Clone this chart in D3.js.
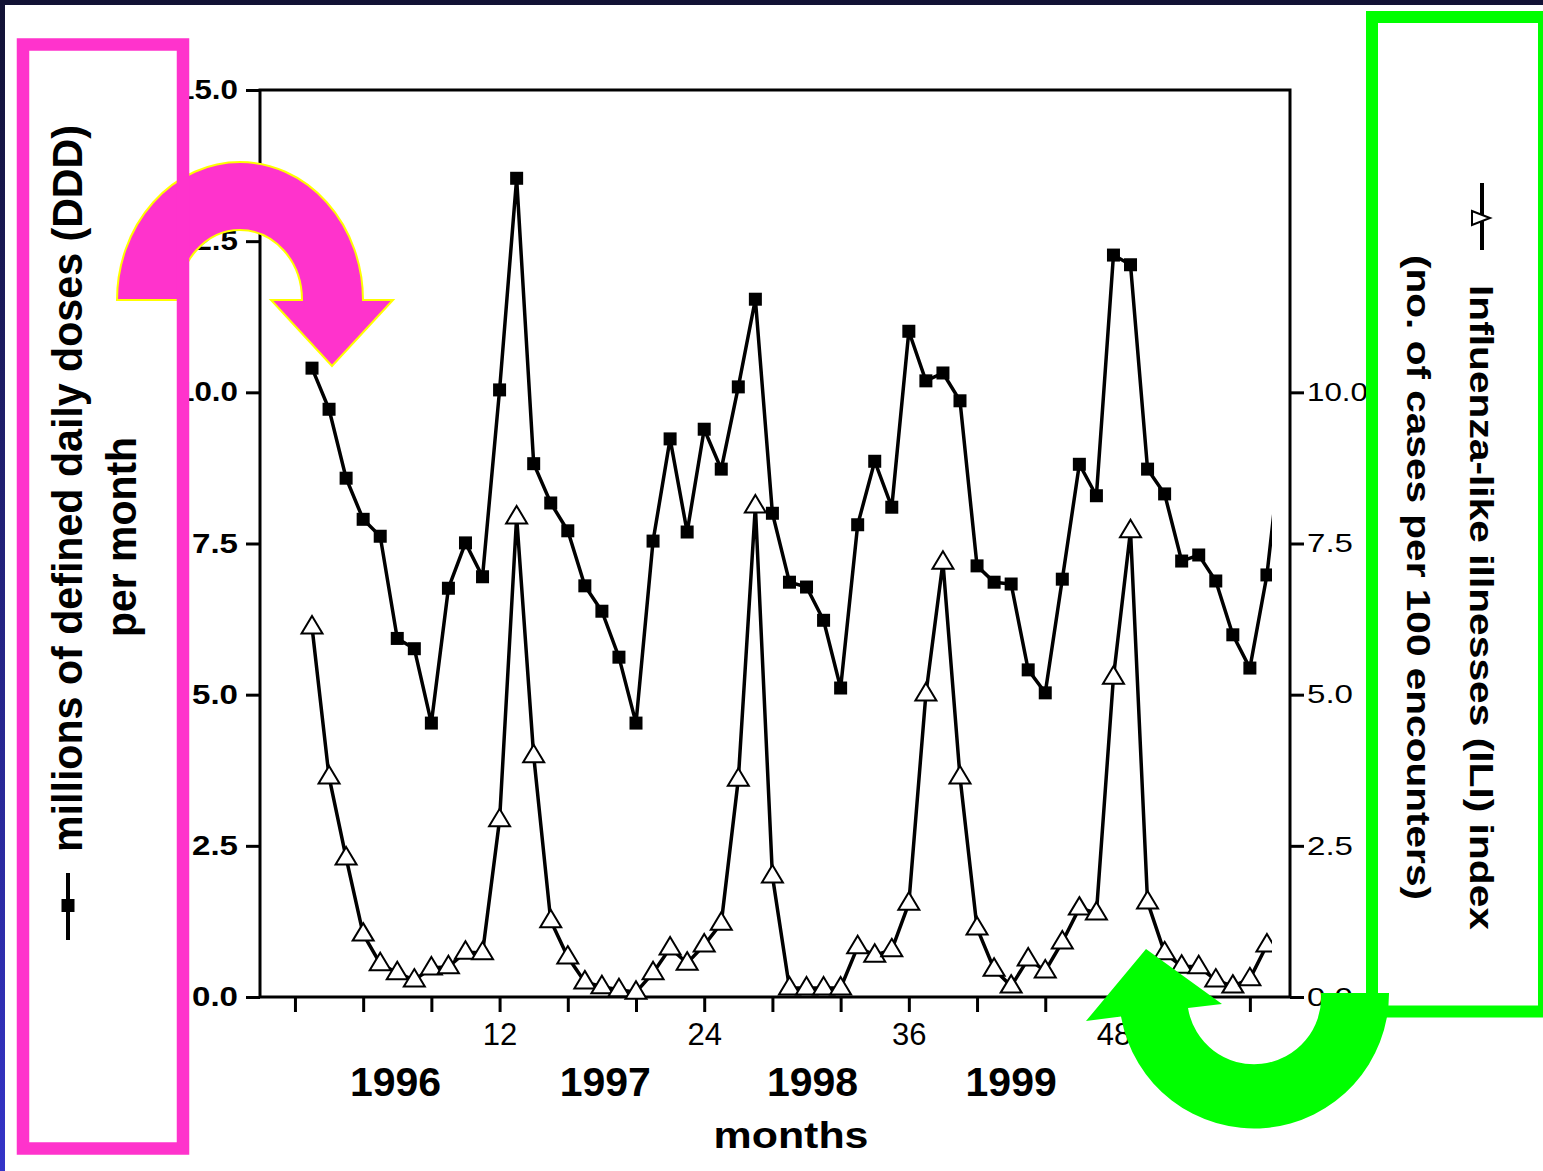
<!DOCTYPE html>
<html>
<head>
<meta charset="utf-8">
<script src="https://cdn.jsdelivr.net/npm/d3@7"></script>
<style>
  body { margin: 0; background: #fff; }
  svg { display: block; font-family: "Liberation Sans", Arial, sans-serif; }
</style>
</head>
<body>
<svg width="1543" height="1171"></svg>
<script>
// months since start of 1996
var months = [1, 2, 3, 4, 5, 6, 7, 8, 9, 10, 11, 12, 13, 14, 15, 16, 17, 18, 19, 20,
  21, 22, 23, 24, 25, 26, 27, 28, 29, 30, 31, 32, 33, 34, 35, 36, 37, 38, 39, 40,
  41, 42, 43, 44, 45, 46, 47, 48, 49, 50, 51, 52, 53, 54, 55, 56, 57, 58];

// millions of DDD per month (filled squares, left axis)
var ddd = [10.40, 9.72, 8.58, 7.90, 7.62, 5.93, 5.76, 4.53, 6.76, 7.51,
  6.95, 10.04, 13.54, 8.82, 8.17, 7.71, 6.80, 6.38, 5.62, 4.53,
  7.54, 9.23, 7.69, 9.39, 8.73, 10.09, 11.54, 8.00, 6.86, 6.78,
  6.23, 5.11, 7.81, 8.86, 8.10, 11.01, 10.19, 10.32, 9.86, 7.13,
  6.86, 6.83, 5.41, 5.03, 6.91, 8.81, 8.29, 12.27, 12.11, 8.73,
  8.32, 7.21, 7.31, 6.88, 5.99, 5.44, 6.98, 9.50];

// ILI index (open triangles, right axis)
var ili = [6.12, 3.64, 2.30, 1.04, 0.55, 0.40, 0.28, 0.48, 0.50, 0.74,
  0.73, 2.93, 7.94, 3.99, 1.26, 0.66, 0.25, 0.17, 0.12, 0.08,
  0.40, 0.81, 0.56, 0.86, 1.22, 3.60, 8.12, 2.00, 0.15, 0.15,
  0.15, 0.15, 0.83, 0.69, 0.78, 1.55, 5.01, 7.19, 3.64, 1.14,
  0.46, 0.18, 0.63, 0.43, 0.91, 1.47, 1.39, 5.29, 7.71, 1.57,
  0.73, 0.51, 0.50, 0.28, 0.18, 0.30, 0.86, null];

var leftTicks = [0, 2.5, 5, 7.5, 10, 12.5, 15];
var rightTicks = [0, 2.5, 5, 7.5, 10];
var monthTicks = [0, 4, 8, 12, 16, 20, 24, 28, 32, 36, 40, 44, 48, 52, 56];
var monthLabels = [12, 24, 36, 48];
var years = ["1996", "1997", "1998", "1999"];
var yearMonths = [5.9, 18.2, 30.35, 42];

var svg = d3.select("svg");

// dark slide frame
var defs = svg.append("defs");
var grad = defs.append("linearGradient").attr("id", "frame")
    .attr("x1", 0).attr("y1", 0).attr("x2", 0).attr("y2", 1);
grad.append("stop").attr("offset", "0%").attr("stop-color", "#121234");
grad.append("stop").attr("offset", "100%").attr("stop-color", "#3434c8");
svg.append("rect").attr("width", 1543).attr("height", 1171).attr("fill", "url(#frame)");
svg.append("rect").attr("x", 5).attr("y", 5).attr("width", 1538).attr("height", 1166).attr("fill", "#fff");

var x = d3.scaleLinear().domain([-2.05, 58.47]).range([260, 1292]);
var y = d3.scaleLinear().domain([0, 15]).range([997, 90]);

defs.append("clipPath").attr("id", "plotclip")
  .append("rect").attr("x", 255).attr("y", 80).attr("width", 1017).attr("height", 930);

// axes
var fmt = d3.format(".1f");

var gl = svg.append("g").attr("transform", "translate(260,0)")
    .call(d3.axisLeft(y).tickValues(leftTicks).tickSize(14).tickSizeOuter(0).tickPadding(8).tickFormat(fmt));
gl.selectAll("text")
    .style("font-size", "27px").style("font-weight", "bold").attr("fill", "#000")
    .attr("textLength", function(d) { return fmt(d).length > 3 ? 61 : 46; })
    .attr("lengthAdjust", "spacingAndGlyphs");

var gr = svg.append("g").attr("transform", "translate(1290,0)")
    .call(d3.axisRight(y).tickValues(rightTicks).tickSize(14).tickSizeOuter(0).tickPadding(3).tickFormat(fmt));
gr.selectAll("text")
    .style("font-size", "26px").attr("fill", "#000")
    .attr("textLength", function(d) { return fmt(d).length > 3 ? 61 : 46; })
    .attr("lengthAdjust", "spacingAndGlyphs");

var gb = svg.append("g").attr("transform", "translate(0,997)")
    .call(d3.axisBottom(x).tickValues(monthTicks).tickSize(15).tickSizeOuter(0).tickPadding(11)
      .tickFormat(function(d) { return monthLabels.indexOf(d) >= 0 ? d : ""; }));
gb.selectAll("text").style("font-size", "31px").attr("fill", "#000");

[gl, gr, gb].forEach(function(g) {
  g.select(".domain").remove();
  g.selectAll(".tick line").attr("stroke", "#000").attr("stroke-width", 3);
});

// frame of the plot
svg.append("rect")
    .attr("x", 260).attr("y", 90).attr("width", 1030).attr("height", 907)
    .attr("fill", "none").attr("stroke", "#000").attr("stroke-width", 3);

// year labels and axis title
svg.selectAll(".year")
  .data(years)
  .enter().append("text")
    .attr("class", "year")
    .attr("x", function(d, i) { return x(yearMonths[i]); })
    .attr("y", 1096)
    .attr("text-anchor", "middle")
    .style("font-size", "41px").style("font-weight", "bold")
    .text(function(d) { return d; });

svg.append("text")
    .attr("x", 791).attr("y", 1148)
    .attr("text-anchor", "middle")
    .attr("textLength", 155).attr("lengthAdjust", "spacingAndGlyphs")
    .style("font-size", "37px").style("font-weight", "bold")
    .text("months");

// series
var pts = months.map(function(m, i) { return {m: m, ddd: ddd[i], ili: ili[i]}; });
var marks = svg.append("g").attr("clip-path", "url(#plotclip)");

var lineDDD = d3.line().x(function(d) { return x(d.m); }).y(function(d) { return y(d.ddd); })
    .defined(function(d) { return d.ddd != null; });
var lineILI = d3.line().x(function(d) { return x(d.m); }).y(function(d) { return y(d.ili); })
    .defined(function(d) { return d.ili != null; });

marks.append("path").datum(pts)
    .attr("d", lineILI).attr("fill", "none").attr("stroke", "#000").attr("stroke-width", 3.5);
marks.append("path").datum(pts)
    .attr("d", lineDDD).attr("fill", "none").attr("stroke", "#000").attr("stroke-width", 3.5);

var tri = "M0,-11L10.5,6.5L-10.5,6.5Z";

marks.selectAll(".tri")
  .data(pts.filter(function(d) { return d.ili != null; }))
  .enter().append("path")
    .attr("class", "tri")
    .attr("d", tri)
    .attr("transform", function(d) { return "translate(" + x(d.m) + "," + y(d.ili) + ")"; })
    .attr("fill", "#fff").attr("stroke", "#000").attr("stroke-width", 2);

marks.selectAll(".sq")
  .data(pts)
  .enter().append("rect")
    .attr("class", "sq")
    .attr("x", function(d) { return x(d.m) - 6.5; })
    .attr("y", function(d) { return y(d.ddd) - 6.5; })
    .attr("width", 13).attr("height", 13)
    .attr("fill", "#000");

// axis titles / legends (rotated)
svg.append("text")
    .attr("transform", "translate(82,852) rotate(-90)")
    .attr("textLength", 727).attr("lengthAdjust", "spacingAndGlyphs")
    .style("font-size", "42px").style("font-weight", "bold")
    .text("millions of defined daily doses (DDD)");
svg.append("text")
    .attr("transform", "translate(136,537) rotate(-90)")
    .attr("text-anchor", "middle")
    .attr("textLength", 200).attr("lengthAdjust", "spacingAndGlyphs")
    .style("font-size", "42px").style("font-weight", "bold")
    .text("per month");

svg.append("line").attr("x1", 68).attr("x2", 68).attr("y1", 873).attr("y2", 940)
    .attr("stroke", "#000").attr("stroke-width", 4);
svg.append("rect").attr("x", 61.5).attr("y", 899).attr("width", 13).attr("height", 13).attr("fill", "#000");

svg.append("text")
    .attr("transform", "translate(1470,285) rotate(90)")
    .attr("textLength", 645).attr("lengthAdjust", "spacingAndGlyphs")
    .style("font-size", "33px").style("font-weight", "bold")
    .text("Influenza-like illnesses (ILI) index");
svg.append("text")
    .attr("transform", "translate(1407,255) rotate(90)")
    .attr("textLength", 645).attr("lengthAdjust", "spacingAndGlyphs")
    .style("font-size", "33px").style("font-weight", "bold")
    .text("(no. of cases per 100 encounters)");

svg.append("line").attr("x1", 1482).attr("x2", 1482).attr("y1", 183).attr("y2", 250)
    .attr("stroke", "#000").attr("stroke-width", 4);
svg.append("path").attr("d", "M-9,-7L9,0L-9,7Z").attr("transform", "translate(1481,218)")
    .attr("fill", "#fff").attr("stroke", "#000").attr("stroke-width", 2);

// slide annotations: curved arrows and boxes
svg.append("path")
    .attr("d", "M117,300 A123,138 0 0 1 363,300 L393,300 L332,366 L271,300 L302,300 A62,70 0 0 0 178,300 Z")
    .attr("fill", "#ff33cc").attr("stroke", "#ffff00").attr("stroke-width", 2);

svg.append("rect")
    .attr("x", 23).attr("y", 44.5).attr("width", 160).attr("height", 1104)
    .attr("fill", "none").attr("stroke", "#ff33cc").attr("stroke-width", 12.5);

svg.append("rect")
    .attr("x", 1372).attr("y", 17).attr("width", 172).attr("height", 994.5)
    .attr("fill", "none").attr("stroke", "#00ff00").attr("stroke-width", 12);

svg.append("path")
    .attr("d", "M1389,993 A135,135 0 0 1 1121,1016.6 L1086,1021 L1146,949 L1222,1004 L1188,1008 A67,67 0 0 0 1321,993 Z")
    .attr("fill", "#00ff00");
</script>
</body>
</html>
